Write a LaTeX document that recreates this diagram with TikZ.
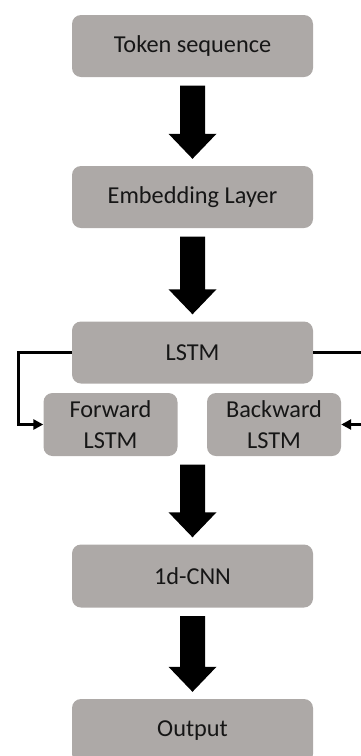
\documentclass[tikz,border=0pt]{standalone}
\usepackage{fontspec}
\setmainfont{Carlito}
\usetikzlibrary{calc,arrows.meta}

\definecolor{boxgray}{RGB}{173,169,167}
\definecolor{boxtext}{RGB}{22,22,22}

% thick block arrow from a point above to the top of a box
\newcommand{\blockarrowfrom}[2]{%
  \fill[black] let \p1=(#1), \p2=(#2.north) in
    (\x1-12.5pt,\y1-8.5pt) -- (\x1+12.5pt,\y1-8.5pt) --
    (\x1+12.5pt,\y2+32pt) -- (\x1+24pt,\y2+32pt) --
    (\x1,\y2+7pt) --
    (\x1-24pt,\y2+32pt) -- (\x1-12.5pt,\y2+32pt) -- cycle;}
% thick block arrow from the bottom of one box to the top of the next
\newcommand{\blockarrow}[2]{\blockarrowfrom{#1.south}{#2}}

\begin{document}
\begin{tikzpicture}[x=1pt,y=1pt,
  layerbox/.style={fill=boxgray, rounded corners=9pt, inner sep=0pt,
    text=boxtext, align=center,
    font=\fontsize{24.3}{31.5}\selectfont},
  widebox/.style={layerbox, minimum width=241pt, minimum height=62pt},
  halfbox/.style={layerbox, minimum width=134pt, minimum height=63pt},
  conn/.style={line width=3pt, -{Triangle[length=10pt,width=10pt]}}]

\useasboundingbox (0,0) rectangle (361,-756);
\clip (0,0) rectangle (361,-756);

\node[widebox] (tok) at (192.5,-46) {Token sequence};
\node[widebox] (emb) at (192.5,-197) {Embedding Layer};
\node[widebox] (lstm) at (192.5,-352.5) {LSTM};
\node[halfbox] (fwd) at (110.5,-424.5) {Forward\\LSTM};
\node[halfbox] (bwd) at (274,-424.5) {Backward\\LSTM};
\node[widebox, minimum height=63pt] (cnn) at (192.5,-576) {1d-CNN};
\node[widebox, minimum height=64pt] (out) at (192.5,-731) {Output};

\blockarrow{tok}{emb}
\blockarrow{emb}{lstm}
\coordinate (midsrc) at (lstm.south |- fwd.south);
\blockarrowfrom{midsrc}{cnn}
\blockarrow{cnn}{out}

\draw[conn] (lstm.west) -- ++(-53pt,0) |- (fwd.west);
\draw[conn] (lstm.east) -- ++(55pt,0) |- (bwd.east);
\end{tikzpicture}
\end{document}
